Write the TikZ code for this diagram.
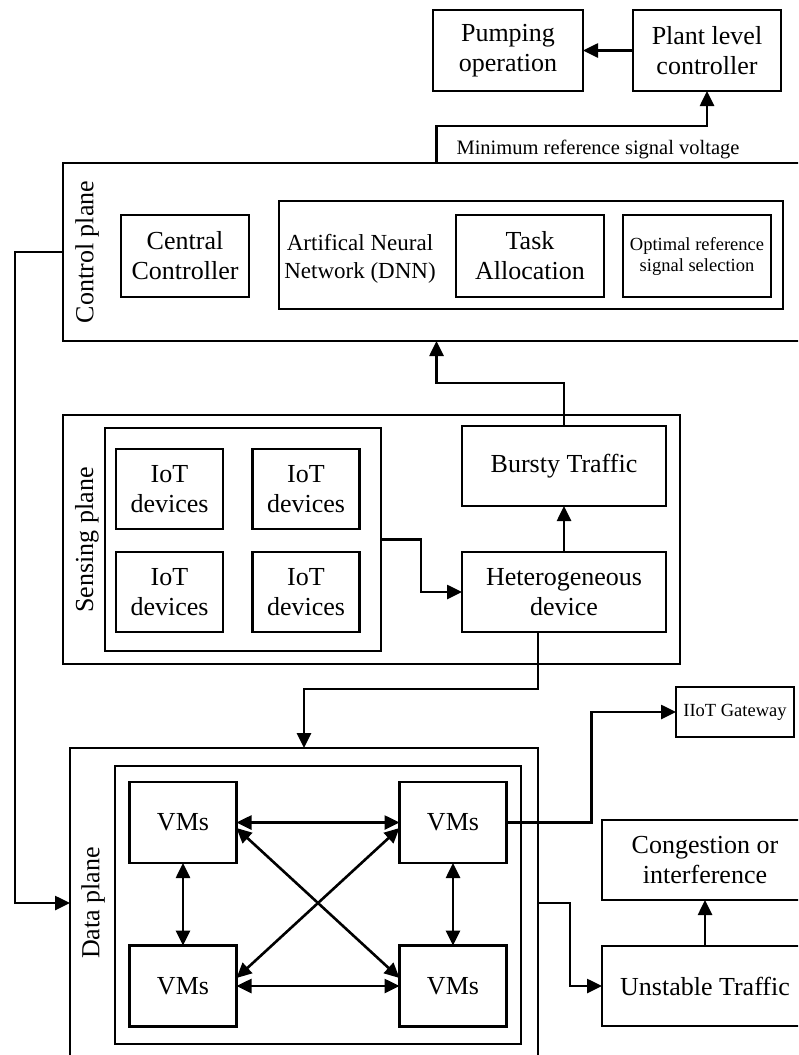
\documentclass[tikz,border=0pt]{standalone}
\usepackage{fontspec}
\setmainfont{Liberation Serif}
\usetikzlibrary{arrows.meta}
\newcommand\figmain{\fontsize{26}{30}\selectfont}
\newcommand\figann{\fontsize{23}{28}\selectfont}
\newcommand\figsmall{\fontsize{18.5}{21}\selectfont}
\newcommand\figref{\fontsize{20.5}{24}\selectfont}
\tikzset{
  box/.style={draw, line width=2.6pt, inner sep=0pt, outer sep=0pt, align=center, font=\figmain},
  lbl/.style={inner sep=0pt, align=center, font=\figmain},
  arr/.style={line width=2.6pt, -{Triangle[length=15pt,width=14pt]}},
  darr/.style={line width=2.6pt, {Triangle[length=15pt,width=14pt]}-{Triangle[length=15pt,width=14pt]}},
  ln/.style={line width=2.6pt}
}
\begin{document}
\begin{tikzpicture}[x=1pt,y=-1pt]
\useasboundingbox (0,0) rectangle (798,1055);
\clip (0,0) rectangle (798,1055);
% top
\node[box, minimum width=150pt, minimum height=81pt] (pump) at (508,50.5) {Pumping\\operation};
\node[box, minimum width=148pt, minimum height=81pt] (plant) at (707,50.5) {Plant level\\controller};
\node[lbl, font=\figref] (minref) at (598,149) {Minimum reference signal voltage};
% control plane
\node[box, minimum width=747pt, minimum height=178pt] (ctrl) at (436.5,252) {};
\node[lbl, rotate=90] (ctrllbl) at (87,252) {Control plane};
\node[box, minimum width=128pt, minimum height=82pt] (cc) at (185,256) {Central\\Controller};
\node[box, minimum width=504pt, minimum height=108pt] (ann) at (531,255) {};
\node[lbl, font=\figann] (anntxt) at (360,259) {Artifical Neural\\Network (DNN)};
\node[box, minimum width=148pt, minimum height=82pt] (task) at (530,256) {Task\\Allocation};
\node[box, minimum width=148pt, minimum height=82pt, font=\figsmall] (opt) at (697,256) {Optimal reference\\signal selection};
% sensing plane
\node[box, minimum width=617pt, minimum height=249pt] (sens) at (371.5,539.5) {};
\node[lbl, rotate=90] (senslbl) at (87,540) {Sensing plane};
\node[box, minimum width=276pt, minimum height=223pt] (iot) at (243,539.5) {};
\node[box, minimum width=107pt, minimum height=80pt] (iot1) at (169.5,489) {IoT\\devices};
\node[box, minimum width=107pt, minimum height=80pt] (iot2) at (306,489) {IoT\\devices};
\node[box, minimum width=107pt, minimum height=80pt] (iot3) at (169.5,592) {IoT\\devices};
\node[box, minimum width=107pt, minimum height=80pt] (iot4) at (306,592) {IoT\\devices};
\node[box, minimum width=204pt, minimum height=80pt] (bursty) at (564,466) {Bursty Traffic};
\node[box, minimum width=204pt, minimum height=80pt] (hetero) at (564,592) {Heterogeneous\\device};
% data plane
\node[box, minimum width=468pt, minimum height=327pt] (dp) at (304,911.5) {};
\node[lbl, rotate=90] (dplbl) at (93,903) {Data plane};
\node[box, minimum width=406pt, minimum height=278pt] (inner) at (318,905) {};
\node[box, minimum width=107pt, minimum height=81pt] (vtl) at (183,822.5) {VMs};
\node[box, minimum width=107pt, minimum height=81pt] (vtr) at (453,822.5) {VMs};
\node[box, minimum width=107pt, minimum height=81pt] (vbl) at (183,986) {VMs};
\node[box, minimum width=107pt, minimum height=81pt] (vbr) at (453,986) {VMs};
% right side
\node[box, minimum width=118pt, minimum height=50pt, font=\figsmall] (iiot) at (735,712) {IIoT Gateway};
\node[box, minimum width=206pt, minimum height=80pt] (cong) at (705,860) {Congestion or\\interference};
\node[box, minimum width=206pt, minimum height=80pt] (unst) at (705,986) {Unstable Traffic};
% connectors
\draw[arr] (plant.west) -- (pump.east);
\draw[arr] (ctrl.north) -- ++(0,-37) -| (plant.south);
\draw[arr] (bursty.north) -- ++(0,-43) -| (ctrl.south);
\draw[arr] (hetero.north) -- (bursty.south);
\draw[arr] (iot.east) -- ++(40,0) |- (hetero.west);
\draw[arr] (hetero.south -| dp.east) -- ++(0,57) -| (dp.north);
\coordinate (fbk) at (15,903);
\draw[arr] (ctrl.west) -| (fbk) -- (dp.west |- fbk);
\draw[arr] (dp.east |- fbk) -- ++(32,0) |- (unst.west);
\draw[arr] (unst.north) -- (cong.south);
\draw[arr] (vtr.east) -- ++(85,0) |- (iiot.west);
\draw[darr] (vtl.east) -- (vtr.west);
\draw[darr] (vbl.east) -- (vbr.west);
\draw[darr] (vtl.south) -- (vbl.north);
\draw[darr] (vtr.south) -- (vbr.north);
\draw[darr] ([yshift=-5.5pt]vtl.east) -- ([yshift=8pt]vbr.west);
\draw[darr] ([yshift=8pt]vbl.east) -- ([yshift=-5.5pt]vtr.west);
\end{tikzpicture}
\end{document}
